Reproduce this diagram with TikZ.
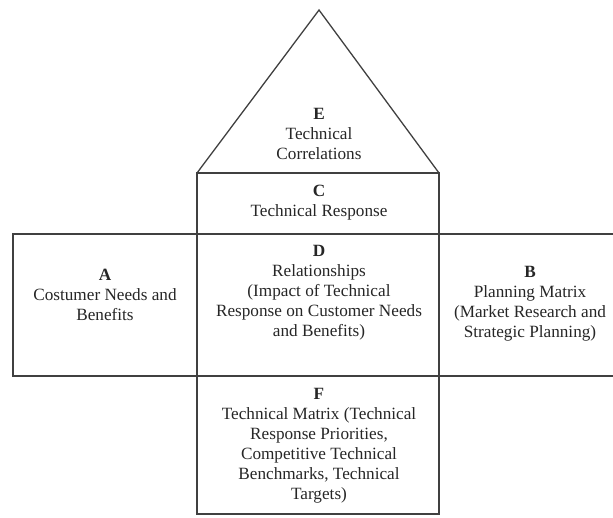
\documentclass[tikz,border=0pt]{standalone}
\usepackage{fontspec}
\setmainfont{Liberation Serif}
\begin{document}
\begin{tikzpicture}[x=1pt,y=-1pt,
  wall/.style={draw=black!75, line width=1.3pt, line join=miter},
  label/.style={align=center, inner sep=0pt, text=black!85,
    font=\fontsize{17.2}{20}\selectfont}]
\useasboundingbox (0,0) rectangle (613,517);
% coordinates
\coordinate (apex) at (319,10);
\coordinate (rl) at (197,173);
\coordinate (rr) at (439,173);
\coordinate (ml) at (197,234);
\coordinate (mr) at (439,234);
\coordinate (bl) at (197,376);
\coordinate (br) at (439,376);
\coordinate (fl) at (197,514);
\coordinate (fr) at (439,514);
\coordinate (al) at (13,234);
\coordinate (alb) at (13,376);
\coordinate (bt) at (613,234);
\coordinate (bb) at (613,376);
% roof
\draw[wall] (rl) -- (apex) -- (rr);
% C box
\draw[wall] (rl) rectangle (mr);
% A box
\draw[wall] (al) rectangle (bl);
% D box
\draw[wall] (ml) rectangle (br);
% B box (open on the right)
\draw[wall] (bt) -- (mr) -- (br) -- (bb);
% F box
\draw[wall] (bl) rectangle (fr);
% texts
\node[label] (E) at (319,134) {\textbf{E}\\Technical\\Correlations};
\node[label] (C) at (319,203) {\textbf{C}\\Technical Response};
\node[label] (A) at (105,295) {\textbf{A}\\Costumer Needs and\\Benefits};
\node[label] (D) at (319,293) {\textbf{D}\\Relationships\\(Impact of Technical\\Response on Customer Needs\\and Benefits)};
\node[label] (B) at (530,304) {\textbf{B}\\Planning Matrix\\(Market Research and\\Strategic Planning)};
\node[label] (F) at (319,446) {\textbf{F}\\Technical Matrix (Technical\\Response Priorities,\\Competitive Technical\\Benchmarks, Technical\\Targets)};
\end{tikzpicture}
\end{document}
